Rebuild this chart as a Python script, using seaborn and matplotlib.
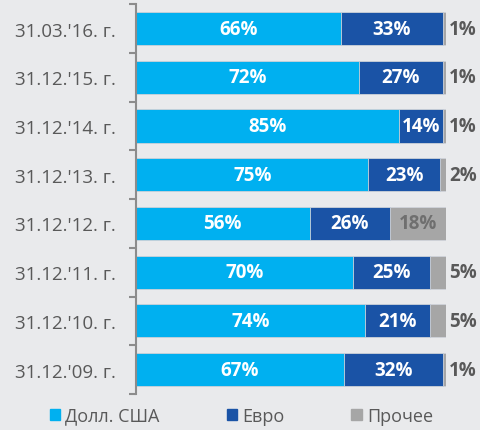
import pandas as pd
import matplotlib.pyplot as plt
import numpy as np
import seaborn as sns

dates = ["31.03.'16. г.", "31.12.'15. г.", "31.12.'14. г.", "31.12.'13. г.",
         "31.12.'12. г.", "31.12.'11. г.", "31.12.'10. г.", "31.12.'09. г."]
usd = [66, 72, 85, 75, 56, 70, 74, 67]
eur = [33, 27, 14, 23, 26, 25, 21, 32]
other = [1, 1, 1, 2, 18, 5, 5, 1]
series = ['Долл. США', 'Евро', 'Прочее']
colors = ['#00b0f0', '#1a53a6', '#a6a6a6']

bg = '#e9eaec'
txt = '#595959'

df = pd.DataFrame({'date': dates, 'usd': usd, 'eur': eur, 'other': other})
df['c1'] = df['usd']
df['c2'] = df['usd'] + df['eur']
df['c3'] = df['c2'] + df['other']

sns.set_style('white')
plt.rcParams['font.family'] = ['Open Sans', 'DejaVu Sans']

fig = plt.figure(figsize=(4.81, 4.31), dpi=100, facecolor=bg)
ax = fig.add_axes([0.283, 0.0835, 0.644, 0.9045])
ax.set_facecolor(bg)

for col, c in zip(['c3', 'c2', 'c1'], colors[::-1]):
    sns.barplot(data=df, x=col, y='date', color=c, width=0.68,
                saturation=1, edgecolor='#d0d4da', linewidth=0.6, ax=ax)

# value labels
fs = 13.5
for i, row in df.iterrows():
    ax.text(row['usd'] / 2, i, f"{row['usd']}%", ha='center', va='center',
            color='white', fontsize=fs, fontweight='bold')
    ax.text(row['usd'] + row['eur'] / 2, i, f"{row['eur']}%", ha='center',
            va='center', color='white', fontsize=fs, fontweight='bold')
    if row['other'] >= 10:
        ax.text(row['c2'] + row['other'] / 2, i, f"{row['other']}%",
                ha='center', va='center', color='#6f6f6f', fontsize=fs,
                fontweight='bold')
    else:
        ax.text(row['c3'] + 1.0, i, f"{row['other']}%", ha='left',
                va='center', color=txt, fontsize=fs, fontweight='bold')

ax.set_xlim(0, 100)
ax.set_ylim(7.5, -0.5)
ax.set(xlabel='', ylabel='', xticks=[])
sns.despine(ax=ax, top=True, right=True, bottom=True)
ax.spines['left'].set_color('#8c8c8c')
ax.spines['left'].set_linewidth(1.5)
ax.set_yticks(np.arange(-0.5, 8, 1), minor=True)
ax.tick_params(axis='y', which='major', length=0, pad=14.5, labelsize=13.5,
               labelcolor=txt)
ax.tick_params(axis='y', which='minor', left=True, length=5, width=1.5,
               color='#8c8c8c', direction='out')

handles = [plt.Rectangle((0, 0), 1, 1, color=c) for c in colors]
fig.legend(handles, series, loc='lower center', bbox_to_anchor=(0.502, -0.025),
           ncol=3, frameon=False, fontsize=13, labelcolor=txt,
           handlelength=0.57, handleheight=0.57, handletextpad=0.3,
           columnspacing=3.7)

fig.savefig('out.png', dpi=100, facecolor=bg)
